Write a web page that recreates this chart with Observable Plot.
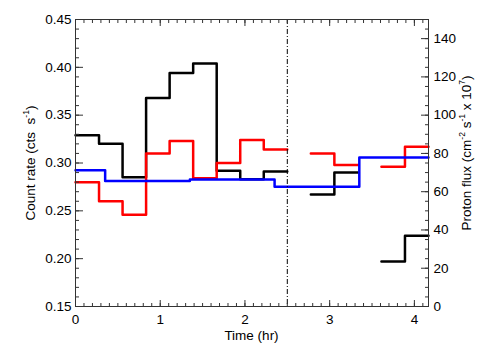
<!DOCTYPE html>
<html>
<head>
<meta charset="utf-8">
<script src="https://cdn.jsdelivr.net/npm/d3@7"></script>
<script src="https://cdn.jsdelivr.net/npm/@observablehq/plot@0.6"></script>
<style>
  body { margin: 0; background: #fff; }
  svg { display: block; }
</style>
</head>
<body>
<div id="chart"></div>
<script>
// ---- data ----
// count-rate bins: 1000 s wide, start times in hours
const binStarts = [0, 0.2778, 0.5556, 0.8333, 1.1111, 1.3889, 1.6667, 1.9444, 2.2222, 2.5, 2.7778, 3.0556, 3.3333, 3.6111, 3.8889];
const binEnd = 4.1667;
const countBlack = [0.329, 0.320, 0.285, 0.368, 0.394, 0.404, 0.292, 0.283, 0.291, null, 0.267, 0.290, null, 0.197, 0.224];
const countRed   = [0.280, 0.260, 0.246, 0.310, 0.323, 0.284, 0.300, 0.324, 0.314, null, 0.310, 0.298, null, 0.296, 0.317];
// proton flux (hourly), bin edges in hours
const protonEdges = [0, 0.35, 1.35, 2.35, 3.35, 4.1667];
const protonFlux  = [71.2, 65.6, 66.4, 62.6, 77.9];
const eventTime = [2.5];
const xMajorTicks = [0, 1, 2, 3, 4];
const yLeftTicks = [0.15, 0.20, 0.25, 0.30, 0.35, 0.40, 0.45];
const yRightTicks = [0, 20, 40, 60, 80, 100, 120, 140];
const yLeftDomain = [0.15, 0.45];
const yRightDomain = [0, 150];

// ---- helpers ----
const toLeft = v => yLeftDomain[0] + (v - yRightDomain[0]) * (yLeftDomain[1] - yLeftDomain[0]) / (yRightDomain[1] - yRightDomain[0]);
const fromLeft = v => yRightDomain[0] + (v - yLeftDomain[0]) * (yRightDomain[1] - yRightDomain[0]) / (yLeftDomain[1] - yLeftDomain[0]);

function histPoints(edges, values) {
  const pts = [];
  values.forEach((v, i) => {
    if (v == null) { pts.push({x: edges[i], y: NaN}); return; }
    pts.push({x: edges[i], y: v}, {x: edges[i + 1], y: v});
  });
  return pts;
}
const countEdges = [...binStarts, binEnd];
const blackPts = histPoints(countEdges, countBlack);
const redPts = histPoints(countEdges, countRed);
const bluePts = histPoints(protonEdges, protonFlux).map(d => ({x: d.x, y: toLeft(d.y)}));

const xMinor = d3.range(0, 4.16, 0.1);
const yMinor = d3.range(0.15, 0.4501, 0.01);
const yRightMinor = d3.range(0, 150.01, 5).map(toLeft);

const axisColor = "#333";
const FONT = "'Liberation Sans', Arial, Helvetica, sans-serif";

const chart = Plot.plot({
  width: 504,
  height: 360,
  marginLeft: 75,
  marginRight: 76,
  marginTop: 19,
  marginBottom: 54,
  style: {fontFamily: FONT, fontSize: "13.5px", background: "#fff", color: "#000"},
  x: {domain: [0, binEnd], axis: null},
  y: {domain: yLeftDomain, axis: null},
  marks: [
    // data
    Plot.line(blackPts, {x: "x", y: "y", stroke: "#000", strokeWidth: 2.5}),
    Plot.line(redPts, {x: "x", y: "y", stroke: "#ff0000", strokeWidth: 2.5}),
    Plot.line(bluePts, {x: "x", y: "y", stroke: "#0000ff", strokeWidth: 2.5}),
    Plot.ruleX(eventTime, {stroke: "#000", strokeWidth: 1, strokeDasharray: "5,2,1,2"}),
    // ticks (inward)
    Plot.axisX(xMinor, {anchor: "bottom", tickSize: -3, fill: "none", stroke: axisColor}),
    Plot.axisX(xMajorTicks, {anchor: "bottom", tickSize: -6, fill: "none", stroke: axisColor}),
    Plot.axisX(xMinor, {anchor: "top", tickSize: -3, fill: "none", stroke: axisColor}),
    Plot.axisX(xMajorTicks, {anchor: "top", tickSize: -6, fill: "none", stroke: axisColor}),
    Plot.axisY(yMinor, {anchor: "left", tickSize: -4, fill: "none", stroke: axisColor}),
    Plot.axisY(yLeftTicks, {anchor: "left", tickSize: -8, fill: "none", stroke: axisColor}),
    Plot.axisY(yRightMinor, {anchor: "right", tickSize: -4, fill: "none", stroke: axisColor}),
    Plot.axisY(yRightTicks.map(toLeft), {anchor: "right", tickSize: -8, fill: "none", stroke: axisColor}),
    // tick labels
    Plot.axisX(xMajorTicks, {anchor: "bottom", tickSize: 0, tickPadding: 8, label: null, tickFormat: d => String(d)}),
    Plot.axisY(yLeftTicks, {anchor: "left", tickSize: 0, tickPadding: 4, label: null, tickFormat: d => d.toFixed(2)}),
    Plot.axisY(yRightTicks.map(toLeft), {anchor: "right", tickSize: 0, tickPadding: 5, label: null, tickFormat: d => String(Math.round(fromLeft(d)))}),
    Plot.frame({stroke: axisColor, strokeWidth: 1})
  ]
});

document.getElementById("chart").appendChild(chart);

// axis titles with superscripts (plain DOM)
const NS = "http://www.w3.org/2000/svg";
function el(name, attrs, parent) {
  const e = document.createElementNS(NS, name);
  for (const k in attrs) e.setAttribute(k, attrs[k]);
  if (parent) parent.appendChild(e);
  return e;
}
const titles = el("g", {"font-size": 13.5, "fill": "#000", "font-family": FONT}, chart);
const xt = el("text", {x: 251.5, y: 340, "text-anchor": "middle"}, titles);
xt.textContent = "Time (hr)";

function supTitle(x, y, parts) {
  const t = el("text", {transform: `translate(${x},${y}) rotate(-90)`, "text-anchor": "middle"}, titles);
  let raised = false;
  parts.forEach(p => {
    const isSup = typeof p === "object";
    const attrs = {};
    if (isSup && !raised) { attrs.dy = -6; raised = true; }
    else if (!isSup && raised) { attrs.dy = 6; raised = false; }
    if (isSup) attrs["font-size"] = 8.5;
    const s = el("tspan", attrs, t);
    s.textContent = isSup ? p.sup : p;
  });
  return t;
}
supTitle(35, 163, ["Count rate (cts  s", {sup: "-1"}, ")"]);
supTitle(470.5, 153, ["Proton flux (cm", {sup: "-2"}, " s", {sup: "-1"}, " x 10", {sup: "7"}, ")"]);
</script>
</body>
</html>
